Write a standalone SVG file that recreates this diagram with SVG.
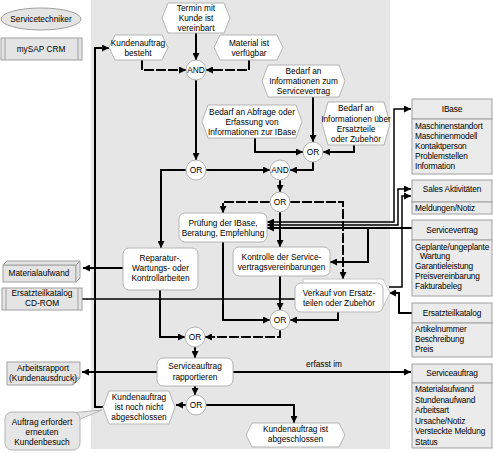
<svg xmlns="http://www.w3.org/2000/svg" width="493" height="453" viewBox="0 0 493 453">
<defs>
<marker id="ah" markerWidth="7" markerHeight="7" refX="7" refY="3.5" orient="auto-start-reverse" markerUnits="userSpaceOnUse"><path d="M0,0 L7,3.5 L0,7 z" fill="#000"/></marker>
</defs>
<style>
text{font-family:"Liberation Sans",Arial,sans-serif;font-size:8.3px;fill:#000}
.c{text-anchor:middle}
.r text{letter-spacing:-0.15px}
.ev,.fn,.op{fill:#fff;stroke:#b4b4b4;stroke-width:1}
.gr{fill:#e4e4e4;stroke:#a0a0a0;stroke-width:1}
.bx{fill:#ebebeb;stroke:#a0a0a0;stroke-width:1}
.ln{fill:none;stroke:#000;stroke-width:2}
.th{fill:none;stroke:#000;stroke-width:1.5}
.d{stroke-dasharray:10 2}
.a{marker-end:url(#ah)}
.b{marker-start:url(#ah)}
</style>
<rect x="0" y="0" width="493" height="453" fill="#fff"/>
<rect id="lane" x="91" y="0" width="299" height="449" fill="#e6e6e6"/>

<g id="connectors">
<path class="ln a" d="M196,33 V60"/>
<path class="ln a d" d="M142,60 V70 H186"/>
<path class="ln a d" d="M249,60 V70 H206"/>
<path class="ln a" d="M196,80 V160"/>
<path class="ln a" d="M186,170 H161 V248"/>
<path class="ln a" d="M206,170 H270"/>
<path class="ln a" d="M313,97 V142"/>
<path class="ln a" d="M255,138 V152 H303"/>
<path class="ln a" d="M354,145 V152 H323"/>
<path class="ln a" d="M313,162 V170 H290"/>
<path class="ln a" d="M280,180 V192"/>
<path class="ln a d" d="M270,202 H223 V213"/>
<path class="ln a" d="M280,212 V247"/>
<path class="ln a d" d="M290,202 H343 V279"/>
<path class="ln a" d="M223,242 V320 H270"/>
<path class="ln a" d="M280,276 V310"/>
<path class="ln a" d="M338,312 V320 H290"/>
<path class="ln a d" d="M280,330 V337 H205"/>
<path class="ln a" d="M160,290 V337 H185"/>
<path class="ln a" d="M195,347 V358"/>
<path class="ln a" d="M195,386 V395"/>
<path class="ln a" d="M186,405 H176"/>
<path class="ln a" d="M206,405 H294 V423"/>
<path class="ln a" d="M103,407 H95 V48 H109"/>
<path class="ln a" d="M123,268 H83"/>
<path class="th" d="M82,299 H295"/>
<path class="ln a" d="M157,372 H82"/>
<path class="ln a" d="M233,372 H411"/>
<text x="324" y="367" class="c">erfasst im</text>
<path class="th a b" d="M267,222 H394 V109 H411"/>
<path class="th a b" d="M267,225 H398 V189 H411"/>
<path class="ln a" d="M412,228 H267"/>
<path class="ln a" d="M368,228 V262 H330"/>
<path class="th b" d="M411,196 H402 V287 H389"/>
<path class="ln a" d="M412,313 H399 V293 H389"/>
</g>

<g id="servicetechniker">
<ellipse cx="41" cy="19" rx="40" ry="11" class="gr"/>
<text x="41" y="22" class="c">Servicetechniker</text>
</g>
<g id="mysap">
<rect x="1" y="38" width="81" height="22" class="gr"/>
<path d="M5,38 V60 M78,38 V60" stroke="#a0a0a0" fill="none"/>
<text x="41" y="52" class="c">mySAP CRM</text>
</g>
<g id="materialaufwand">
<rect x="3" y="265" width="73" height="17" class="gr"/>
<path d="M3,265 L7,261 H80 L76,265 Z" class="gr"/>
<path d="M76,265 L80,261 V278 L76,282 Z" class="gr"/>
<text x="39" y="276" class="c">Materialaufwand</text>
</g>
<g id="cdrom">
<rect x="2" y="288" width="80" height="22" class="gr"/>
<path d="M6,288 V310 M78,288 V310" stroke="#a0a0a0" fill="none"/>
<text x="42" y="296" class="c">Ersatzteilkatalog</text>
<text x="42" y="306" class="c">CD-ROM</text>
</g>
<g id="arbeitsrapport">
<path d="M7,362 H80 V378 L73,385 H7 Z" class="gr"/>
<path d="M73,385 L74,378 H80" fill="none" stroke="#a0a0a0"/>
<text x="43" y="371" class="c">Arbeitsrapport</text>
<text x="43" y="381" class="c">(Kundenausdruck)</text>
</g>
<g id="kommentar">
<path d="M70,413 L102,410 L78,420 Z" fill="#e6e6e6" stroke="#b4b4b4"/>
<rect x="5" y="412" width="75" height="38" rx="7" fill="#e6e6e6" stroke="#b4b4b4"/>
<text x="42" y="425" class="c">Auftrag erfordert</text>
<text x="42" y="435" class="c">erneuten</text>
<text x="42" y="445" class="c">Kundenbesuch</text>
</g>

<g id="termin">
<polygon class="ev" points="168,3 224,3 230,18 224,33 168,33 162,18"/>
<text x="196" y="11" class="c">Termin mit</text>
<text x="196" y="21" class="c">Kunde ist</text>
<text x="196" y="31" class="c">vereinbart</text>
</g>
<g id="auftrag-besteht">
<polygon class="ev" points="115,35 162,35 168,47.5 162,60 115,60 109,47.5"/>
<text x="138" y="46" class="c">Kundenauftrag</text>
<text x="138" y="56" class="c">besteht</text>
</g>
<g id="material">
<polygon class="ev" points="220,35 277,35 283,47.5 277,60 220,60 214,47.5"/>
<text x="249" y="46" class="c">Material ist</text>
<text x="249" y="56" class="c">verfügbar</text>
</g>
<g id="and1"><circle cx="196" cy="70" r="10" class="op"/><text x="196" y="73" class="c">AND</text></g>
<g id="bedarf-sv">
<polygon class="ev" points="268,65 339,65 345,81 339,97 268,97 262,81"/>
<text x="303.5" y="74" class="c">Bedarf an</text>
<text x="303.5" y="84" class="c">Informationen zum</text>
<text x="303.5" y="94" class="c">Servicevertrag</text>
</g>
<g id="bedarf-ibase">
<polygon class="ev" points="208,105 296,105 302,121.5 296,138 208,138 202,121.5"/>
<text x="252" y="115" class="c">Bedarf an Abfrage oder</text>
<text x="252" y="125" class="c">Erfassung von</text>
<text x="252" y="135" class="c">Informationen zur IBase</text>
</g>
<g id="bedarf-et">
<polygon class="ev" points="328,102 384,102 390,123.5 384,145 328,145 322,123.5"/>
<text x="356" y="111" class="c">Bedarf an</text>
<text x="356" y="121.5" class="c">Informationen über</text>
<text x="356" y="132" class="c">Ersatzteile</text>
<text x="356" y="142" class="c">oder Zubehör</text>
</g>
<g id="or3"><circle cx="313" cy="152" r="10" class="op"/><text x="313" y="155" class="c">OR</text></g>
<g id="or2"><circle cx="196" cy="170" r="10" class="op"/><text x="196" y="173" class="c">OR</text></g>
<g id="and2"><circle cx="280" cy="170" r="10" class="op"/><text x="280" y="173" class="c">AND</text></g>
<g id="or4"><circle cx="280" cy="202" r="10" class="op"/><text x="280" y="205" class="c">OR</text></g>
<g id="pruefung">
<rect x="179" y="213" width="88" height="29" rx="6" class="fn"/>
<text x="223" y="226" class="c">Prüfung der IBase,</text>
<text x="223" y="236" class="c">Beratung, Empfehlung</text>
</g>
<g id="reparatur">
<rect x="123" y="248" width="75" height="42" rx="6" class="fn"/>
<text x="160.5" y="261" class="c">Reparatur-,</text>
<text x="160.5" y="271" class="c">Wartungs- oder</text>
<text x="160.5" y="281" class="c">Kontrollarbeiten</text>
</g>
<g id="kontrolle">
<rect x="233" y="247" width="97" height="29" rx="6" class="fn"/>
<text x="281.5" y="260" class="c">Kontrolle der Service-</text>
<text x="281.5" y="270" class="c">vertragsvereinbarungen</text>
</g>
<g id="verkauf">
<polygon points="303,279 383,279 390,293 383,307 303,307" fill="#fff" stroke="#c8c8c8"/>
<rect x="295" y="283" width="88" height="29" rx="6" class="fn"/>
<text x="339" y="296" class="c">Verkauf von Ersatz-</text>
<text x="339" y="306" class="c">teilen oder Zubehör</text>
</g>
<g id="or5"><circle cx="280" cy="320" r="10" class="op"/><text x="280" y="323" class="c">OR</text></g>
<g id="or6"><circle cx="195" cy="337" r="10" class="op"/><text x="195" y="340" class="c">OR</text></g>
<g id="rapportieren">
<rect x="157" y="358" width="76" height="28" rx="6" class="fn"/>
<text x="195" y="369" class="c">Serviceauftrag</text>
<text x="195" y="380" class="c">rapportieren</text>
</g>
<g id="or7"><circle cx="196" cy="405" r="10" class="op"/><text x="196" y="408" class="c">OR</text></g>
<g id="nicht-abgeschlossen">
<polygon class="ev" points="109,391 169,391 175,407.5 169,424 109,424 103,407.5"/>
<text x="139" y="400" class="c">Kundenauftrag</text>
<text x="139" y="410" class="c">ist noch nicht</text>
<text x="139" y="420" class="c">abgeschlossen</text>
</g>
<g id="abgeschlossen">
<polygon class="ev" points="252,423 339,423 345,435 339,447 252,447 246,435"/>
<text x="295.5" y="432" class="c">Kundenauftrag ist</text>
<text x="295.5" y="442" class="c">abgeschlossen</text>
</g>

<g id="ibase" class="r">
<rect x="412" y="99" width="80" height="20" class="bx"/>
<rect x="412" y="119" width="80" height="55" class="bx"/>
<text x="452" y="112" class="c">IBase</text>
<text x="415" y="129">Maschinenstandort</text>
<text x="415" y="139">Maschinenmodell</text>
<text x="415" y="149">Kontaktperson</text>
<text x="415" y="159">Problemstellen</text>
<text x="415" y="169">Information</text>
</g>
<g id="sales" class="r">
<rect x="412" y="180" width="80" height="22" class="bx"/>
<rect x="412" y="202" width="80" height="12" class="bx"/>
<text x="452" y="192" class="c">Sales Aktivitäten</text>
<text x="415" y="211">Meldungen/Notiz</text>
</g>
<g id="servicevertrag" class="r">
<rect x="412" y="220" width="80" height="20" class="bx"/>
<rect x="412" y="240" width="80" height="56" class="bx"/>
<text x="452" y="233" class="c">Servicevertrag</text>
<text x="415" y="250">Geplante/ungeplante</text>
<text x="420" y="259">Wartung</text>
<text x="415" y="269">Garantieleistung</text>
<text x="415" y="279">Preisvereinbarung</text>
<text x="415" y="289">Fakturabeleg</text>
</g>
<g id="ersatzteilkatalog" class="r">
<rect x="412" y="303" width="80" height="20" class="bx"/>
<rect x="412" y="323" width="80" height="34" class="bx"/>
<text x="452" y="316" class="c">Ersatzteilkatalog</text>
<text x="415" y="332">Artikelnummer</text>
<text x="415" y="342">Beschreibung</text>
<text x="415" y="352">Preis</text>
</g>
<g id="serviceauftrag" class="r">
<rect x="412" y="364" width="80" height="19" class="bx"/>
<rect x="412" y="383" width="80" height="65" class="bx"/>
<text x="452" y="376" class="c">Serviceauftrag</text>
<text x="415" y="392">Materialaufwand</text>
<text x="415" y="402.5">Stundenaufwand</text>
<text x="415" y="413">Arbeitsart</text>
<text x="415" y="423.5">Ursache/Notiz</text>
<text x="415" y="434">Versteckte Meldung</text>
<text x="415" y="444.5">Status</text>
</g>
</svg>
